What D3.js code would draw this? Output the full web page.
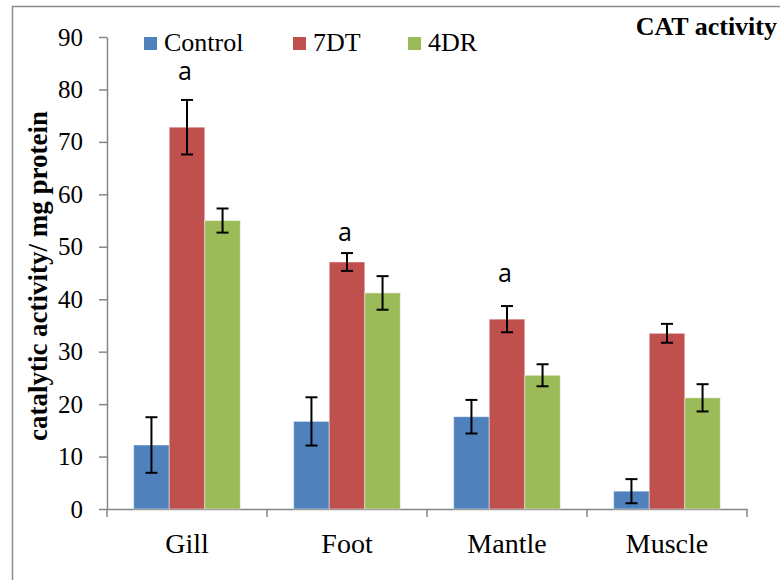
<!DOCTYPE html>
<html>
<head>
<meta charset="utf-8">
<script src="https://cdn.jsdelivr.net/npm/d3@7"></script>
<style>
  body { margin: 0; background: #fff; }
  svg { display: block; }
</style>
</head>
<body>
<div id="chart"></div>
<script>
// ── Data ─────────────────────────────────────────────────────────────────
const tissues = ["Gill", "Foot", "Mantle", "Muscle"];
const groups = ["Control", "7DT", "4DR"];
const controlMeans = [12.2, 16.7, 17.6, 3.4];
const controlErr = [5.3, 4.6, 3.2, 2.3];
const dtMeans = [72.8, 47.1, 36.2, 33.5];
const dtErr = [5.2, 1.7, 2.5, 1.8];
const drMeans = [55.0, 41.2, 25.5, 21.2];
const drErr = [2.3, 3.2, 2.1, 2.6];
const sigLetters = ["a", "a", "a"];
const sigLetterLevel = [81.8, 51.1, 43.3]; // baseline level of the letters, in data units
const yTicks = [0, 10, 20, 30, 40, 50, 60, 70, 80, 90];

const colors = ["#4F81BD", "#C0504D", "#9BBB59"];
const meansBy = [controlMeans, dtMeans, drMeans];
const errBy = [controlErr, dtErr, drErr];

const rows = [];
tissues.forEach((t, i) => {
  groups.forEach((g, j) => {
    rows.push({ tissue: t, group: g, value: meansBy[j][i], err: errBy[j][i], gi: j });
  });
});

// ── SVG ────────────────────────────────────────────────────────────────
const W = 780, H = 580;
const svg = d3.select("#chart").append("svg").attr("width", W).attr("height", H);

// outer frame (runs past the picture on right and bottom)
svg.append("rect")
  .attr("x", 12.5).attr("y", 6.5)
  .attr("width", 800).attr("height", 600)
  .attr("fill", "none").attr("stroke", "#8c8c8c").attr("stroke-width", 1.5);

const plot = { left: 107, right: 747, top: 37, bottom: 509 };

const x0 = d3.scaleBand().domain(tissues).range([plot.left, plot.right]).paddingInner(0).paddingOuter(0);
const x1 = d3.scaleBand().domain(groups).range([0, x0.bandwidth()]).paddingInner(0).paddingOuter(0.75);
const y = d3.scaleLinear().domain([0, 90]).range([plot.bottom, plot.top]);

const serif = "'Liberation Serif', 'Times New Roman', serif";

// ── Axes ───────────────────────────────────────────────────────────────
const yAxis = svg.append("g")
  .attr("transform", `translate(${plot.left},0)`)
  .call(d3.axisLeft(y).tickValues(yTicks).tickSize(8).tickSizeOuter(0).tickPadding(16));
yAxis.selectAll("line, path").attr("stroke", "#868686").attr("stroke-width", 1.5);
yAxis.selectAll("text").attr("font-family", serif).attr("font-size", 25).attr("fill", "#000");

const xAxis = svg.append("g")
  .attr("transform", `translate(0,${plot.bottom})`)
  .call(d3.axisBottom(x0).tickSize(0).tickPadding(0));
xAxis.select(".domain").attr("stroke", "#868686").attr("stroke-width", 1.5);
xAxis.selectAll("text")
  .attr("dy", null).attr("y", 44)
  .attr("font-family", serif).attr("font-size", 28).attr("fill", "#000");

// category boundary ticks
const bounds = tissues.map((t) => x0(t)).concat([x0(tissues[tissues.length - 1]) + x0.bandwidth()]);
svg.append("g").selectAll("line").data(bounds).join("line")
  .attr("x1", (d) => d).attr("x2", (d) => d)
  .attr("y1", plot.bottom).attr("y2", plot.bottom + 8)
  .attr("stroke", "#868686").attr("stroke-width", 1.5);

// ── Bars ───────────────────────────────────────────────────────────────
svg.append("g").selectAll("rect").data(rows).join("rect")
  .attr("x", (d) => x0(d.tissue) + x1(d.group))
  .attr("y", (d) => y(d.value))
  .attr("width", x1.bandwidth())
  .attr("height", (d) => y(0) - y(d.value))
  .attr("fill", (d) => colors[d.gi])
  .attr("stroke", "rgba(255,255,255,0.45)")
  .attr("stroke-width", 1);

// ── Error bars ─────────────────────────────────────────────────────────
const eb = svg.append("g").attr("stroke", "#000").attr("stroke-width", 2);
rows.forEach((d) => {
  const cx = x0(d.tissue) + x1(d.group) + x1.bandwidth() / 2;
  const yt = y(d.value + d.err), yb = y(d.value - d.err);
  eb.append("line").attr("x1", cx).attr("x2", cx).attr("y1", yt).attr("y2", yb);
  eb.append("line").attr("x1", cx - 6).attr("x2", cx + 6).attr("y1", yt).attr("y2", yt);
  eb.append("line").attr("x1", cx - 6).attr("x2", cx + 6).attr("y1", yb).attr("y2", yb);
});

// ── Significance letters ──────────────────────────────────────────────
svg.append("g").selectAll("text").data(sigLetters).join("text")
  .attr("x", (s, i) => x0(tissues[i]) + x1("7DT") + x1.bandwidth() / 2 - 2)
  .attr("y", (s, i) => y(sigLetterLevel[i]))
  .attr("text-anchor", "middle")
  .attr("font-family", "'Open Sans', 'Noto Sans', sans-serif")
  .attr("font-size", 25)
  .text((s) => s);

// ── Legend ─────────────────────────────────────────────────────────────
const legendX = [144, 293, 408];
const legend = svg.append("g");
groups.forEach((g, j) => {
  legend.append("rect").attr("x", legendX[j]).attr("y", 37).attr("width", 13).attr("height", 13).attr("fill", colors[j]);
  legend.append("text").attr("x", legendX[j] + 20).attr("y", 51)
    .attr("font-family", serif).attr("font-size", 26).text(g);
});

// ── Title ──────────────────────────────────────────────────────────────
svg.append("text")
  .attr("x", 777).attr("y", 35)
  .attr("text-anchor", "end")
  .attr("font-family", serif).attr("font-weight", "bold").attr("font-size", 26)
  .text("CAT activity");

// ── Y axis label ─────────────────────────────────────────────────────────
svg.append("text")
  .attr("transform", `translate(47,276) rotate(-90)`)
  .attr("text-anchor", "middle")
  .attr("font-family", serif).attr("font-weight", "bold").attr("font-size", 27)
  .text("catalytic activity/ mg protein");
</script>
</body>
</html>
